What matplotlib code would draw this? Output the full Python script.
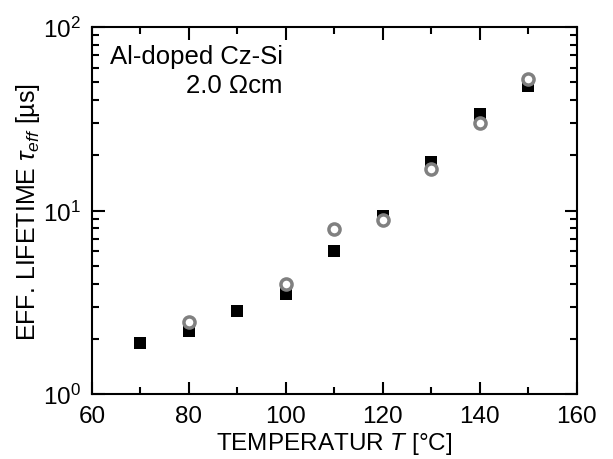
import matplotlib
matplotlib.use("Agg")
import matplotlib.pyplot as plt
from matplotlib.ticker import MultipleLocator, LogLocator, NullFormatter

plt.rcParams['font.family'] = 'Liberation Sans'
plt.rcParams['mathtext.fontset'] = 'custom'
plt.rcParams['mathtext.rm'] = 'Liberation Sans'
plt.rcParams['mathtext.it'] = 'Liberation Sans:italic'

# filled squares
t_sq = [70, 80, 90, 100, 110, 120, 130, 140, 150]
tau_sq = [1.89, 2.2, 2.84, 3.5, 6.0, 9.3, 18.4, 33.6, 47.7]

# open circles
t_ci = [80, 100, 110, 120, 130, 140, 150]
tau_ci = [2.47, 3.97, 7.95, 8.9, 16.8, 30.0, 52.0]

fig = plt.figure(figsize=(6.13, 4.6), dpi=100)
ax = fig.add_axes([0.150, 0.141, 0.791, 0.798])

ax.plot(t_sq, tau_sq, 's', color='black', markersize=8.5, markeredgewidth=0)
ax.plot(t_ci, tau_ci, 'o', markerfacecolor='white', markeredgecolor='#808080',
        markersize=8, markeredgewidth=2.5)

ax.set_yscale('log')
ax.set_xlim(60, 160)
ax.set_ylim(1, 100)
ax.xaxis.set_major_locator(MultipleLocator(20))
ax.xaxis.set_minor_locator(MultipleLocator(10))
ax.yaxis.set_minor_locator(LogLocator(base=10, subs=range(2, 10)))
ax.yaxis.set_minor_formatter(NullFormatter())

for s in ax.spines.values():
    s.set_linewidth(1.5)
ax.tick_params(which='both', direction='in', top=True, right=True,
               labelsize=17.5, width=1.5)
ax.tick_params(which='major', length=9)
ax.tick_params(which='minor', length=5)
ax.tick_params(axis='x', pad=8)
ax.tick_params(axis='y', pad=8)

ax.set_xlabel('TEMPERATUR $T$ [°C]', fontsize=17.5)
ax.set_ylabel(r'EFF. LIFETIME $\tau_{eff}$ [µs]', fontsize=18)
ax.xaxis.set_label_coords(0.5, -0.097)
ax.yaxis.set_label_coords(-0.102, 0.5)

ax.text(0.394, 0.955, 'Al-doped Cz-Si\n2.0 Ωcm', transform=ax.transAxes,
        ha='right', va='top', fontsize=18.5, multialignment='right',
        linespacing=1.3)

fig.savefig('out.png', dpi=100)
